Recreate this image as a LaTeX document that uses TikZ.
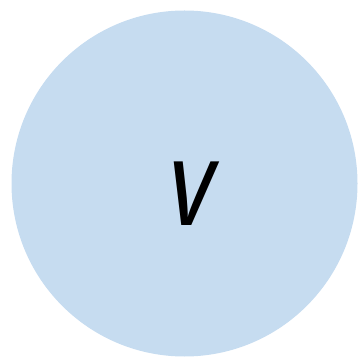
\documentclass[tikz,border=0pt]{standalone}
\usepackage{fontspec}
\definecolor{circfill}{RGB}{198,220,240}
\tikzset{vertex/.style={circle,fill=circfill,draw=none,minimum size=346pt,inner sep=0pt}}
\begin{document}
\begin{tikzpicture}[x=1pt,y=1pt]
\useasboundingbox (0,0) rectangle (358,356);
\node[vertex] (v) at (184.5,172.5) {};
\node[inner sep=0pt,xscale=0.76] (lbl) at (186.5,162) {\fontsize{148}{148}\selectfont\sffamily\itshape v};
\end{tikzpicture}
\end{document}
